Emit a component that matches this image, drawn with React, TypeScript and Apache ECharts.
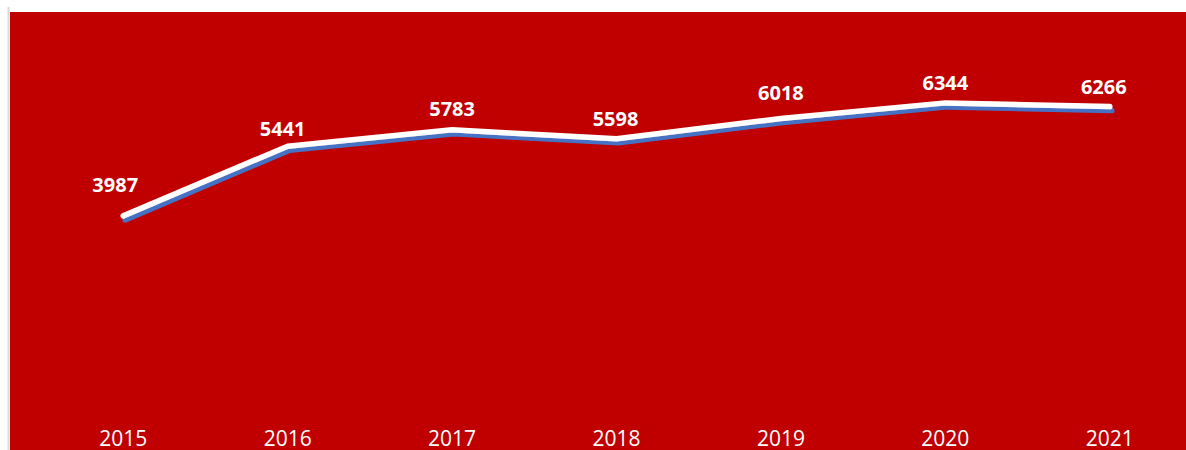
import React, { useEffect, useRef } from "react";
import * as echarts from "echarts";

const years = ["2015", "2016", "2017", "2018", "2019", "2020", "2021"];
const values = [3987, 5441, 5783, 5598, 6018, 6344, 6266];
// per-label nudges (px) to mimic the original's label placement
const labelNudges: [number, number][] = [
  [-8, -11],
  [-5, 3],
  [0, -1],
  [-1, 0],
  [0, -6],
  [0, 0],
  [-6, 0],
];

export default function App() {
  const ref = useRef<HTMLDivElement>(null);
  useEffect(() => {
    document.body.style.overflow = "hidden";
    if (!ref.current) return;
    const chart = echarts.init(ref.current, undefined, { renderer: "svg" });
    chart.setOption({
      animation: false,
      backgroundColor: "#ffffff",
      graphic: [
        {
          type: "rect",
          z: -10,
          silent: true,
          shape: { x: 10, y: 12, width: 1200, height: 440 },
          style: { fill: "#c00000" },
        },
        {
          type: "line",
          z: -10,
          silent: true,
          shape: { x1: 8.5, y1: 7, x2: 8.5, y2: 450 },
          style: { stroke: "#d9d9d9", lineWidth: 2 },
        },
      ],
      grid: { left: 41, right: 8, top: 23.5, bottom: 43 },
      xAxis: {
        type: "category",
        data: years,
        boundaryGap: true,
        axisLine: { show: false },
        axisTick: { show: false },
        axisLabel: {
          color: "#ffffff",
          fontFamily: "Open Sans",
          fontSize: 21,
          margin: 20,
        },
      },
      yAxis: {
        type: "value",
        min: 0,
        max: 8000,
        show: false,
        splitLine: { show: false },
      },
      series: [
        {
          type: "line",
          data: values.map((v, i) => ({
            value: v,
            label: { offset: labelNudges[i] },
          })),
          symbol: "circle",
          symbolSize: 1,
          showSymbol: true,
          itemStyle: { color: "rgba(255,255,255,0)" },
          lineStyle: {
            color: "#ffffff",
            width: 5.5,
            cap: "round",
            join: "round",
            shadowColor: "#4472c4",
            shadowBlur: 0,
            shadowOffsetX: 2,
            shadowOffsetY: 4,
          },
          label: {
            show: true,
            position: "top",
            distance: 10,
            color: "#ffffff",
            fontFamily: "Open Sans",
            fontWeight: "bold",
            fontSize: 20,
          },
        },
      ],
    });
    return () => chart.dispose();
  }, []);
  return (
    <div
      ref={ref}
      style={{ position: "fixed", left: 0, top: 0, width: 1200, height: 450 }}
    />
  );
}
